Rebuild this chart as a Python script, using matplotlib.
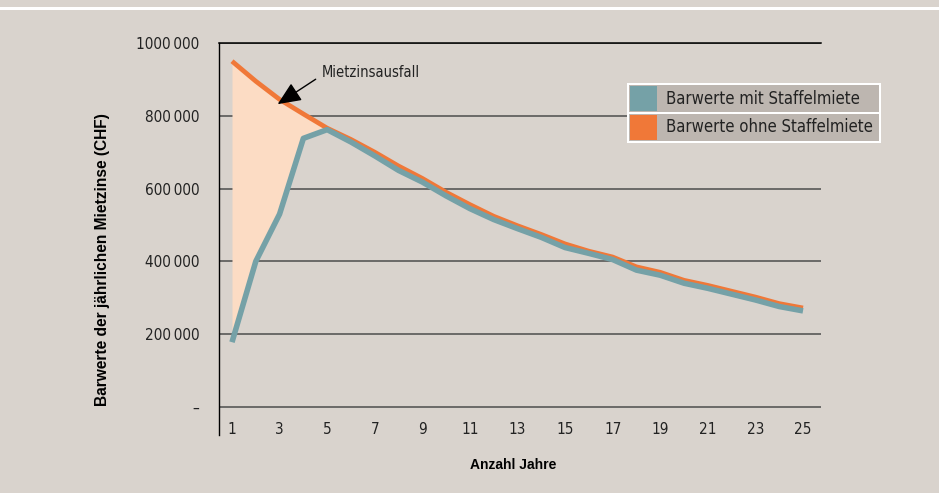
import matplotlib
matplotlib.use("Agg")
import matplotlib.pyplot as plt
from matplotlib.patches import Rectangle
from matplotlib.ticker import FuncFormatter

# Barwerte der jährlichen Mietzinse über 25 Jahre
jahre = list(range(1, 26))
mit_staffel = [178000, 400000, 530000, 738000, 762000, 728000, 690000, 650000, 618000, 580000,
               545000, 515000, 490000, 466000, 438000, 422000, 405000, 376000, 362000, 340000,
               326000, 310000, 294000, 276000, 264000]
ohne_staffel = [950000, 895000, 845000, 805000, 766000, 735000, 700000, 662000, 628000, 590000,
                556000, 524000, 498000, 474000, 448000, 428000, 412000, 385000, 370000, 348000,
                334000, 318000, 302000, 284000, 272000]
y_ticks = [0, 200000, 400000, 600000, 800000, 1000000]
x_ticks = list(range(1, 26, 2))

BG = "#d9d3cd"
ORANGE = "#f07838"
TEAL = "#75a1a7"
FILL = "#fcdcc4"
LEG_BG = "#bdb6b0"

plt.rcParams["font.family"] = "DejaVu Sans"
plt.rcParams["font.stretch"] = "condensed"

fig = plt.figure(figsize=(9.39, 4.93), dpi=100, facecolor=BG)
W, H = 939, 493


def fx(px):
    return px / W


def fy(py):
    return 1 - py / H


ax = fig.add_axes([fx(219), fy(435), fx(821) - fx(219), fy(43) - fy(435)])
ax.set_facecolor(BG)

ax.fill_between(jahre[:5], mit_staffel[:5], ohne_staffel[:5], color=FILL, lw=0, zorder=1)
ax.plot(jahre, ohne_staffel, color=ORANGE, lw=3.4, solid_capstyle="butt", zorder=3)
ax.plot(jahre, mit_staffel, color=TEAL, lw=4.0, solid_capstyle="butt", zorder=4)

ax.set_xlim(0.454, 25.756)
ax.set_ylim(-77000, 1000000)
ax.set_xticks(x_ticks)
ax.set_yticks(y_ticks)
ax.yaxis.set_major_formatter(FuncFormatter(
    lambda v, p: "–" if v == 0 else f"{int(v // 1000)}\u2009000"))
ax.tick_params(axis="x", length=0, pad=-9, labelsize=11, labelcolor="#222222")
ax.tick_params(axis="y", length=0, pad=14, labelsize=11, labelcolor="#222222")
ax.grid(axis="y", color="#4d4d4d", lw=1.1, zorder=2)
ax.set_axisbelow(True)
for s in ["right", "bottom"]:
    ax.spines[s].set_visible(False)
ax.spines["top"].set_color("black")
ax.spines["left"].set_color("black")
ax.spines["top"].set_linewidth(1.1)
ax.spines["left"].set_linewidth(1.0)

ax.annotate("Mietzinsausfall", xy=(2.92, 832000), xytext=(4.78, 920000),
            ha="left", va="center", fontsize=10.5, color="#222222",
            arrowprops=dict(arrowstyle="-|>,head_length=0.8,head_width=0.35",
                            color="black", lw=1, mutation_scale=18, relpos=(0, 0.3),
                            shrinkA=3, shrinkB=0), zorder=5)

fig.text(fx(103), fy(260), "Barwerte der jährlichen Mietzinse (CHF)", rotation=90,
         ha="center", va="center", fontsize=11.2, fontweight="bold",
         family="Liberation Sans", fontstretch="normal")
fig.text(fx(513), fy(465), "Anzahl Jahre", ha="center", va="center",
         fontsize=10, fontweight="bold", family="Liberation Sans", fontstretch="normal")

# legend rows
fig.patches.append(Rectangle((fx(627), fy(143)), fx(881) - fx(627), fy(83) - fy(143),
                             transform=fig.transFigure, color="white", lw=0))
rows = [(85, 112, TEAL, "Barwerte mit Staffelmiete"),
        (114, 141, ORANGE, "Barwerte ohne Staffelmiete")]
for top, bot, col, label in rows:
    fig.patches.append(Rectangle((fx(629), fy(bot)), fx(879) - fx(629), fy(top) - fy(bot),
                                 transform=fig.transFigure, color=LEG_BG, lw=0))
    fig.patches.append(Rectangle((fx(630), fy(bot - 1)), fx(657) - fx(630),
                                 fy(top + 1) - fy(bot - 1),
                                 transform=fig.transFigure, color=col, lw=0))
    fig.text(fx(666), fy((top + bot) / 2), label, ha="left", va="center",
             fontsize=12, color="#222222")

# white rule at the top edge
fig.patches.append(Rectangle((0, fy(10)), 1, fy(7.5) - fy(10),
                             transform=fig.transFigure, color="white", lw=0))

fig.savefig("out.png", dpi=100, facecolor=BG)
